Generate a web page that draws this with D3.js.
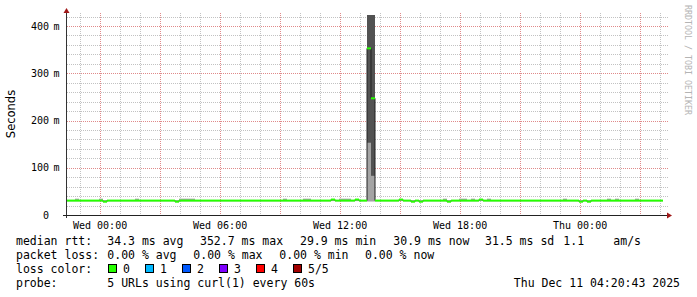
<!DOCTYPE html>
<html lang="en">
<head>
<meta charset="UTF-8">
<title>Smokeping latency</title>
<script src="https://d3js.org/d3.v7.min.js"></script>
<style>
    body { margin: 0; background: #fff; }
    svg text { font-family: "DejaVu Sans Mono", monospace; fill: #000; }
    .grid-minor { stroke: #c2c2c2; stroke-dasharray: 1,1; }
    .grid-major { stroke: #e08a8a; stroke-dasharray: 1,1; }
</style>
</head>
<body>
<svg id="chart" width="697" height="297"></svg>
<script>
// 30 hour window ending at the graph timestamp, 12 minute consolidated steps
var startTime = new Date(2025, 11, 9, 22, 20, 43);
var endTime = new Date(2025, 11, 11, 4, 20, 43);
var stepMinutes = 12;

// median rtt per step (ms)
var median = [
    30.5, 30.5, 30.5, 30.5, 30.5, 30.5, 30.5, 30.5, 30.5, 28.3,
    30.5, 30.5, 30.5, 30.5, 30.5, 30.5, 30.5, 30.5, 30.5, 30.5,
    30.5, 30.5, 30.5, 30.5, 30.5, 30.5, 30.5, 28.3, 30.5, 30.5,
    30.5, 30.5, 30.5, 30.5, 30.5, 30.5, 30.5, 30.5, 30.5, 30.5,
    30.5, 30.5, 30.5, 30.5, 30.5, 30.5, 30.5, 30.5, 30.5, 30.5,
    30.5, 30.5, 30.5, 30.5, 30.5, 30.5, 30.5, 30.5, 30.5, 30.5,
    30.5, 30.5, 30.5, 30.5, 30.5, 30.5, 32.7, 30.5, 30.5, 30.5,
    30.5, 30.5, 32.7, 30.5, 30.5, 352.7, 247.0, 30.5, 30.5, 30.5,
    30.5, 30.5, 30.5, 32.7, 30.5, 30.5, 28.3, 30.5, 28.3, 30.5,
    30.5, 30.5, 30.5, 30.5, 30.5, 28.3, 30.5, 30.5, 30.5, 30.5,
    30.5, 30.5, 30.5, 32.7, 30.5, 30.5, 30.5, 30.5, 30.5, 30.5,
    30.5, 30.5, 30.5, 30.5, 30.5, 30.5, 30.5, 30.5, 30.5, 30.5,
    30.5, 30.5, 30.5, 30.5, 30.5, 30.5, 30.5, 30.5, 28.3, 30.5,
    28.3, 30.5, 30.5, 30.5, 30.5, 30.5, 30.5, 30.5, 30.5, 30.5,
    30.5, 30.5, 30.5, 30.5, 30.5, 30.5, 30.5, 30.5, 30.5
];

// fastest / slowest ping per step (ms), the "smoke"
var pingMin = [
    29.4, 29.4, 29.4, 29.4, 29.4, 29.4, 29.4, 29.4, 29.4, 27.6,
    29.4, 29.4, 29.4, 29.4, 29.4, 29.4, 29.4, 29.4, 29.4, 29.4,
    29.4, 29.4, 29.4, 29.4, 29.4, 29.4, 29.4, 27.6, 29.4, 29.4,
    29.4, 29.4, 29.4, 29.4, 29.4, 29.4, 29.4, 29.4, 29.4, 29.4,
    29.4, 29.4, 29.4, 29.4, 29.4, 29.4, 29.4, 29.4, 29.4, 29.4,
    29.4, 29.4, 29.4, 29.4, 29.4, 29.4, 29.4, 29.4, 29.4, 29.4,
    29.4, 29.4, 29.4, 29.4, 29.4, 29.4, 29.4, 29.4, 29.4, 29.4,
    29.4, 29.4, 29.4, 29.4, 29.4, 28.5, 28.5, 29.4, 29.4, 29.4,
    29.4, 29.4, 29.4, 29.4, 29.4, 29.4, 27.6, 29.4, 27.6, 29.4,
    29.4, 29.4, 29.4, 29.4, 29.4, 27.6, 29.4, 29.4, 29.4, 29.4,
    29.4, 29.4, 29.4, 29.4, 29.4, 29.4, 29.4, 29.4, 29.4, 29.4,
    29.4, 29.4, 29.4, 29.4, 29.4, 29.4, 29.4, 29.4, 29.4, 29.4,
    29.4, 29.4, 29.4, 29.4, 29.4, 29.4, 29.4, 29.4, 27.6, 29.4,
    27.6, 29.4, 29.4, 29.4, 29.4, 29.4, 29.4, 29.4, 29.4, 29.4,
    29.4, 29.4, 29.4, 29.4, 29.4, 29.4, 29.4, 29.4, 29.4
];
var pingMax = [
    31.6, 31.6, 34.6, 31.6, 31.6, 31.6, 31.6, 31.6, 34.6, 31.6,
    31.6, 31.6, 31.6, 31.6, 31.6, 31.6, 31.6, 34.6, 31.6, 31.6,
    31.6, 31.6, 31.6, 31.6, 31.6, 31.6, 31.6, 31.6, 34.6, 34.6,
    34.6, 34.6, 31.6, 31.6, 31.6, 31.6, 31.6, 31.6, 31.6, 31.6,
    31.6, 31.6, 31.6, 31.6, 31.6, 31.6, 31.6, 31.6, 31.6, 31.6,
    31.6, 31.6, 31.6, 31.6, 34.6, 31.6, 31.6, 31.6, 31.6, 34.6,
    34.6, 31.6, 31.6, 31.6, 31.6, 31.6, 33.8, 31.6, 34.6, 34.6,
    34.6, 31.6, 33.8, 31.6, 31.6, 430.0, 430.0, 31.6, 31.6, 31.6,
    31.6, 31.6, 31.6, 33.8, 31.6, 31.6, 31.6, 31.6, 31.6, 31.6,
    31.6, 31.6, 31.6, 31.6, 34.6, 31.6, 31.6, 31.6, 34.6, 34.6,
    31.6, 34.6, 31.6, 33.8, 31.6, 34.6, 31.6, 31.6, 31.6, 31.6,
    31.6, 31.6, 31.6, 31.6, 31.6, 31.6, 31.6, 31.6, 31.6, 31.6,
    31.6, 31.6, 31.6, 31.6, 34.6, 31.6, 31.6, 31.6, 31.6, 31.6,
    31.6, 31.6, 31.6, 31.6, 31.6, 34.6, 31.6, 34.6, 31.6, 31.6,
    31.6, 31.6, 34.6, 31.6, 31.6, 31.6, 31.6, 31.6, 31.6
];

// dense part of the smoke in the spike
var darkStep = [75, 76];
var darkLo = [153, 83];
var darkHi = [430, 430];

var yTicks = [0, 100, 200, 300, 400];

var medianStats = ["34.3 ms avg", "352.7 ms max", "29.9 ms min", "30.9 ms now", "31.5 ms sd", "1.1", "am/s"];
var lossStats = ["0.00 % avg", "0.00 % max", "0.00 % min", "0.00 % now"];
var lossLabels = ["0", "1", "2", "3", "4", "5/5"];
var lossColors = ["#26ff00", "#00b8ff", "#0059ff", "#7e00ff", "#ff0000", "#a10000"];
var probeText = "5 URLs using curl(1) every 60s";
var stampText = "Thu Dec 11 04:20:43 2025";

var svg = d3.select("#chart");
var x = d3.scaleTime().domain([startTime, endTime]).range([67, 667]);
var y = d3.scaleLinear().domain([0, 423.3]).range([215, 15]);
var px = function (v) { return Math.round(v) + 0.5; };
var stepTime = function (k) { return d3.timeMinute.offset(startTime, k * stepMinutes); };

// grid
var hours = x.ticks(d3.timeHour.every(1));
svg.selectAll(".vminor").data(hours.filter(function (d) { return d.getHours() % 3 != 0; }))
    .enter().append("line").attr("class", "grid-minor")
    .attr("x1", function (d) { return px(x(d)); }).attr("x2", function (d) { return px(x(d)); })
    .attr("y1", 13).attr("y2", 215);
var hmin = d3.range(20, 421, 20).filter(function (v) { return v % 100 != 0; });
svg.selectAll(".hminor").data(hmin)
    .enter().append("line").attr("class", "grid-minor")
    .attr("x1", 67).attr("x2", 668)
    .attr("y1", function (d) { return px(y(d)); }).attr("y2", function (d) { return px(y(d)); });
svg.selectAll(".vmajor").data(hours.filter(function (d) { return d.getHours() % 3 == 0; }))
    .enter().append("line").attr("class", "grid-major")
    .attr("x1", function (d) { return px(x(d)); }).attr("x2", function (d) { return px(x(d)); })
    .attr("y1", 13).attr("y2", 215);
svg.selectAll(".hmajor").data(yTicks.filter(function (v) { return v > 0; }))
    .enter().append("line").attr("class", "grid-major")
    .attr("x1", 67).attr("x2", 668)
    .attr("y1", function (d) { return px(y(d)); }).attr("y2", function (d) { return px(y(d)); });

// plot area clip
svg.append("clipPath").attr("id", "plot")
    .append("rect").attr("x", 67).attr("y", 15).attr("width", 600).attr("height", 200);
var plot = svg.append("g").attr("clip-path", "url(#plot)");

// smoke
plot.selectAll(".smoke").data(median)
    .enter().append("rect")
    .attr("x", function (d, k) { return x(stepTime(k)); })
    .attr("width", function (d, k) { return x(stepTime(k + 1)) - x(stepTime(k)); })
    .attr("y", function (d, k) { return y(pingMax[k]); })
    .attr("height", function (d, k) { return y(pingMin[k]) - y(pingMax[k]); })
    .attr("fill", "#a4a4a4");
plot.selectAll(".dark").data(darkStep)
    .enter().append("rect")
    .attr("x", function (k) { return x(stepTime(k)); })
    .attr("width", function (k) { return x(stepTime(k + 1)) - x(stepTime(k)); })
    .attr("y", function (k, i) { return y(darkHi[i]); })
    .attr("height", function (k, i) { return y(darkLo[i]) - y(darkHi[i]); })
    .attr("fill", "#525252");

// median line
var pts = median.map(function (v, k) { return [stepTime(k), v]; });
pts.push([stepTime(median.length), median[median.length - 1]]);
plot.append("path")
    .attr("d", d3.line().curve(d3.curveStepAfter)
        .x(function (d) { return x(d[0]); })
        .y(function (d) { return y(d[1]); })(pts))
    .attr("fill", "none").attr("stroke", "#202020").attr("stroke-width", 1);

// loss coloured band around the median (loss 0 everywhere)
var band = 423.3 / 200;
plot.selectAll(".band").data(median)
    .enter().append("rect")
    .attr("x", function (d, k) { return x(stepTime(k)); })
    .attr("width", function (d, k) { return x(stepTime(k + 1)) - x(stepTime(k)); })
    .attr("y", function (d) { return y(d + band); })
    .attr("height", function (d) { return y(d - band) - y(d + band); })
    .attr("fill", lossColors[0]);

// axes
svg.append("line").attr("x1", 66.5).attr("x2", 66.5).attr("y1", 12).attr("y2", 218)
    .attr("stroke", "#333");
svg.append("line").attr("x1", 63).attr("x2", 668).attr("y1", 215.5).attr("y2", 215.5)
    .attr("stroke", "#222");
svg.append("path").attr("d", "M66.5,8 L63.5,13 L69.5,13 Z").attr("fill", "#a01818");
svg.append("path").attr("d", "M672,215.5 L667,212.5 L667,218.5 Z").attr("fill", "#a01818");

// y labels
svg.selectAll(".ylab").data(yTicks)
    .enter().append("text")
    .attr("x", 49).attr("y", function (d) { return y(d) + 3.5; })
    .attr("text-anchor", "end").style("font-size", "10px")
    .text(function (d) { return d == 0 ? "0" : d; });
svg.selectAll(".yunit").data(yTicks.filter(function (v) { return v > 0; }))
    .enter().append("text")
    .attr("x", 53.5).attr("y", function (d) { return y(d) + 3.5; })
    .style("font-size", "10px").text("m");

// x labels
svg.selectAll(".xlab").data(hours.filter(function (d) { return d.getHours() % 6 == 0; }))
    .enter().append("text")
    .attr("x", function (d) { return x(d); }).attr("y", 228.5)
    .attr("text-anchor", "middle").style("font-size", "10px")
    .text(d3.timeFormat("%a %H:%M"));

svg.append("text")
    .attr("transform", "translate(15,114) rotate(-90)")
    .attr("text-anchor", "middle")
    .style("font-family", "'DejaVu Sans', sans-serif").style("font-size", "11.5px")
    .text("Seconds");

svg.append("text")
    .attr("transform", "translate(685,5) rotate(90)")
    .style("font-size", "8.3px").style("fill", "#b4b4b4")
    .text("RRDTOOL / TOBI OETIKER");

// legend
var fs = "11.5px";
var rows = [245.3, 259.1, 273, 286.9];
function put(tx, xx, yy, anchor) {
    svg.append("text").attr("x", xx).attr("y", yy).attr("xml:space", "preserve")
        .attr("text-anchor", anchor || "start").style("font-size", fs).text(tx);
}
put("median rtt:", 16, rows[0]);
var medianCols = [107.3, 200, 300, 393.3, 485, 563.3, 613.3];
medianStats.forEach(function (s, i) { put(s, medianCols[i], rows[0]); });
put("packet loss:", 16, rows[1]);
var lossCols = [107.3, 193.3, 279.3, 365];
lossStats.forEach(function (s, i) { put(s, lossCols[i], rows[1]); });
put("loss color:", 16, rows[2]);
lossLabels.forEach(function (s, i) {
    var sx = 108 + i * 37;
    svg.append("rect").attr("x", sx + 0.5).attr("y", 264.5).attr("width", 8).attr("height", 8)
        .attr("fill", lossColors[i]).attr("stroke", "#000");
    put(s, sx + 15, rows[2]);
});
put("probe:", 16, rows[3]);
put(probeText, 107.3, rows[3]);
put(stampText, 680, rows[3], "end");
</script>
</body>
</html>
